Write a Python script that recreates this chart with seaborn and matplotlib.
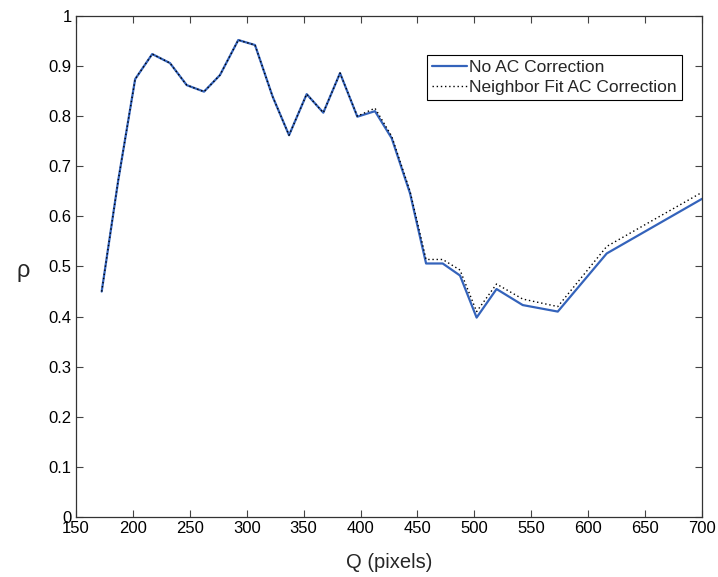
import matplotlib
matplotlib.use("Agg")
import matplotlib.pyplot as plt
import seaborn as sns
import pandas as pd

q = [172.6, 187, 202, 217, 232.6, 247.3, 262.5, 276.5, 292.6, 307.3, 322.8, 337.2,
     352.7, 367.3, 382, 397.2, 412.7, 427.4, 443.5, 457.6, 472.2, 487.4, 502, 519.5,
     542.5, 573.3, 616.3, 700]
no_ac = [0.45, 0.67, 0.874, 0.924, 0.906, 0.862, 0.849, 0.882, 0.952, 0.942, 0.839, 0.762,
         0.844, 0.807, 0.886, 0.799, 0.810, 0.756, 0.646, 0.506, 0.506, 0.482, 0.398, 0.455,
         0.423, 0.41, 0.526, 0.635]
neighbor = [0.45, 0.67, 0.874, 0.924, 0.906, 0.862, 0.849, 0.882, 0.952, 0.942, 0.839, 0.762,
            0.844, 0.807, 0.886, 0.80, 0.816, 0.76, 0.65, 0.514, 0.514, 0.493, 0.41, 0.465,
            0.435, 0.42, 0.54, 0.648]
labels = ["No AC Correction", "Neighbor Fit AC Correction"]
xticks = [150, 200, 250, 300, 350, 400, 450, 500, 550, 600, 650, 700]
yticks = [0, 0.1, 0.2, 0.3, 0.4, 0.5, 0.6, 0.7, 0.8, 0.9, 1]
ytick_labels = ["0", "0.1", "0.2", "0.3", "0.4", "0.5", "0.6", "0.7", "0.8", "0.9", "1"]

sns.set_style("ticks")
plt.rcParams["font.family"] = ["Liberation Sans", "DejaVu Sans"]

df1 = pd.DataFrame({"Q": q, "rho": no_ac})
df2 = pd.DataFrame({"Q": q, "rho": neighbor})

fig = plt.figure(figsize=(7.18, 5.77), dpi=100)
ax = fig.add_axes([0.1058, 0.104, 0.8719, 0.8683])

sns.lineplot(data=df1, x="Q", y="rho", ax=ax, color="#3463bb", linewidth=1.6,
             label=labels[0], sort=False)
sns.lineplot(data=df2, x="Q", y="rho", ax=ax, color="black", linewidth=1.0,
             linestyle=(0, (1, 2)), label=labels[1], sort=False)

ax.set_xlim(150, 700)
ax.set_ylim(0, 1)
ax.set_xticks(xticks)
ax.set_xticklabels([str(t) for t in xticks])
ax.set_yticks(yticks)
ax.set_yticklabels(ytick_labels)
ax.tick_params(direction="in", top=True, right=True, length=5, width=0.8,
               labelsize=12, colors="#444444", labelcolor="black", pad=3)
for s in ax.spines.values():
    s.set_visible(True)
    s.set_color("#333333")
    s.set_linewidth(0.9)

ax.set_xlabel("Q (pixels)", fontsize=14.5, labelpad=12)
ax.set_ylabel("ρ", fontsize=17, rotation=0, labelpad=18)
ax.yaxis.set_label_coords(-0.085, 0.47)

leg = ax.legend(loc="upper left", bbox_to_anchor=(0.561, 0.922), fontsize=12.5,
                frameon=True, fancybox=False, edgecolor="black", framealpha=1,
                handlelength=2.0, handletextpad=0.1, borderpad=0.3, labelspacing=0.25,
                borderaxespad=0)
leg.get_frame().set_linewidth(0.8)

fig.savefig("out.png", dpi=100)
